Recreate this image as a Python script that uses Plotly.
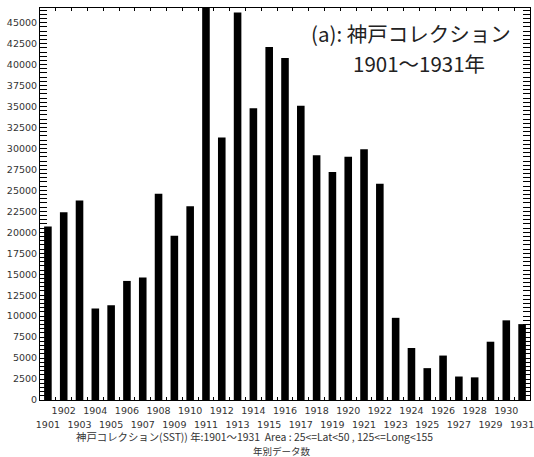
import plotly.graph_objects as go

years = list(range(1901, 1932))
counts = [20700, 22400, 23800, 10900, 11300, 14200, 14600, 24600, 19600, 23100,
          47500, 31300, 46200, 34800, 42100, 40800, 35100, 29200, 27200, 29000,
          29900, 25800, 9800, 6200, 3800, 5300, 2800, 2700, 6950, 9500, 9050]
ytick_vals = list(range(0, 45001, 2500))
ytick_text = [str(v) for v in ytick_vals]
even_years = [y for y in years if y % 2 == 0]
odd_years = [y for y in years if y % 2 == 1]
boundaries = [y + 0.5 for y in years[:-1]]
title_line1 = "(a): 神戸コレクション"
title_line2 = "1901～1931年"
caption1 = "神戸コレクション(SST)) 年:1901～1931  Area : 25<=Lat<50 , 125<=Long<155"
caption2 = "年別データ数"

xr = [1900.5, 1931.5]
tickfont = dict(family="DejaVu Sans", size=9.5, color="#333")

fig = go.Figure()
fig.add_trace(go.Bar(x=years, y=counts, width=0.48,
                     marker=dict(color="black", line=dict(width=0)),
                     xaxis="x", yaxis="y", showlegend=False))
fig.add_trace(go.Scatter(x=even_years, y=[0]*len(even_years), mode="markers",
                         marker=dict(opacity=0), xaxis="x2", yaxis="y",
                         showlegend=False, hoverinfo="skip"))
fig.add_trace(go.Scatter(x=odd_years, y=[0]*len(odd_years), mode="markers",
                         marker=dict(opacity=0), xaxis="x3", yaxis="y",
                         showlegend=False, hoverinfo="skip"))

fig.update_layout(
    width=534, height=457,
    margin=dict(l=40, r=4, t=8, b=57, autoexpand=False),
    paper_bgcolor="white", plot_bgcolor="white",
    xaxis=dict(range=xr, tickmode="array", tickvals=boundaries,
               showticklabels=False, ticks="inside", ticklen=3,
               tickcolor="black", showline=True, linecolor="black",
               linewidth=1, mirror="allticks", showgrid=False, zeroline=False),
    xaxis2=dict(range=xr, overlaying="x", tickmode="array",
                tickvals=even_years, ticktext=[str(y) for y in even_years],
                ticks="", showline=False, showgrid=False, zeroline=False,
                tickfont=tickfont, side="bottom", ticklabelstandoff=3,
                ticklabeloverflow="allow"),
    xaxis3=dict(range=xr, overlaying="x", tickmode="array",
                tickvals=odd_years, ticktext=[str(y) for y in odd_years],
                ticks="", showline=False, showgrid=False, zeroline=False,
                tickfont=tickfont, side="bottom", ticklabelstandoff=17,
                ticklabeloverflow="allow"),
    yaxis=dict(range=[0, 46750], tickmode="array", tickvals=ytick_vals,
               ticktext=ytick_text,
               ticks="inside", ticklen=7, tickcolor="black",
               minor=dict(dtick=500, tick0=0, ticks="inside", ticklen=3,
                          tickcolor="black", showgrid=False),
               showline=True, linecolor="black", linewidth=1,
               mirror="allticks", showgrid=False, zeroline=False,
               tickfont=tickfont, ticklabeloverflow="allow"),
    annotations=[
        dict(text=title_line1, xref="paper", yref="paper", x=0.757, y=0.936,
             xanchor="center", yanchor="middle", showarrow=False,
             font=dict(family="Noto Sans CJK JP", size=20.5, color="#222")),
        dict(text=title_line2, xref="paper", yref="paper", x=0.773, y=0.860,
             xanchor="center", yanchor="middle", showarrow=False,
             font=dict(family="Noto Sans CJK JP", size=20.5, color="#222")),
        dict(text=caption1, xref="paper", yref="paper", x=0.437, y=-0.0931,
             xanchor="center", yanchor="middle", showarrow=False,
             font=dict(family="Noto Sans CJK JP", size=10.4, color="#333")),
        dict(text=caption2, xref="paper", yref="paper", x=0.494, y=-0.130,
             xanchor="center", yanchor="middle", showarrow=False,
             font=dict(family="Noto Sans CJK JP", size=9.5, color="#333")),
    ],
)

fig.write_html("out.html", config={"displayModeBar": False},
               post_script="document.body.style.margin='0px';")
